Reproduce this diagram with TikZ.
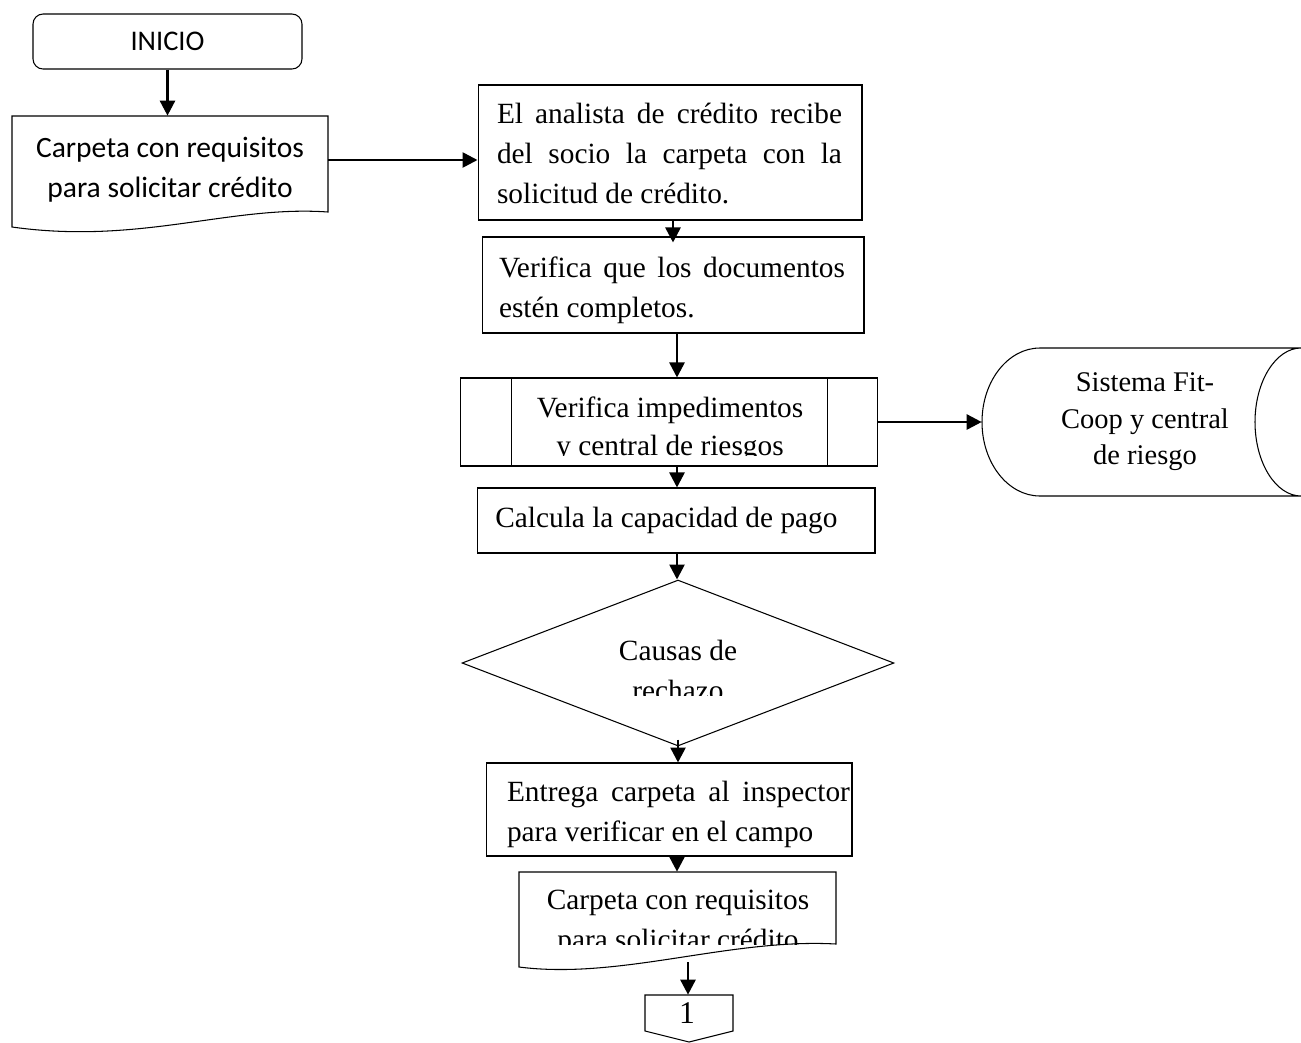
\documentclass[tikz,border=0pt]{standalone}
\usepackage{fontspec}
\setmainfont{Liberation Serif}
\newfontfamily\calfont{Carlito}
\usetikzlibrary{arrows.meta,shapes.geometric}
\begin{document}
\begin{tikzpicture}[x=0.02cm,y=-0.02cm,
  outline/.style={draw=black, line width=0.6pt},
  stepbox/.style={outline, rectangle, inner sep=0pt},
  hidden/.style={rectangle, inner sep=0pt},
  flow/.style={line width=1.5pt, -{Triangle[length=0.3cm,width=0.3cm]}},
  ttext/.style={inner sep=0pt, font=\fontsize{16.7}{22.76}\selectfont},
  ctext/.style={inner sep=0pt, font=\calfont\fontsize{16.8}{22.76}\selectfont},
]
\useasboundingbox (0,0) rectangle (1301,1042);
\coordinate (spine) at (677,0);

% start terminal
\node[stepbox, rounded corners=0.2cm, minimum width=5.38cm, minimum height=1.1cm,
      font=\calfont\fontsize{16.2}{18}\selectfont] (inicio) at (167.5,41.5) {INICIO};

% folder with requirements (document)
\draw[outline] (12,116) -- (328,116) -- (328,212)
  .. controls (230,205) and (140,245) .. (12,227) -- cycle;
\node[hidden, minimum width=6.32cm, minimum height=1.76cm] (doc1) at (170,160) {};
\node[ctext, align=center] (doc1t) at (170,170) {Carpeta con requisitos\\para solicitar crédito};

% analyst receives folder
\node[stepbox, minimum width=7.68cm, minimum height=2.7cm] (b1) at (670,152.5) {};
\node[ttext, text width=6.9cm, align=justify] (b1t) at (669.5,153.4)
  {El analista de crédito recibe\linebreak del socio la carpeta con la\linebreak solicitud de crédito.};

% check documents
\node[stepbox, minimum width=7.64cm, minimum height=1.92cm] (b2) at (673,285) {};
\node[ttext, text width=6.92cm, align=justify] (b2t) at (672,290.4)
  {Verifica que los documentos\linebreak estén completos.};

% predefined process
\node[stepbox, minimum width=8.36cm, minimum height=1.76cm] (pp) at (669,422) {};
\draw[outline] ([xshift=1.04cm]pp.north west) -- ([xshift=1.04cm]pp.south west);
\draw[outline] ([xshift=-1.02cm]pp.north east) -- ([xshift=-1.02cm]pp.south east);
\begin{scope}
  \clip (460,378) rectangle (878,455);
  \node[ttext, align=center, font=\fontsize{16.7}{21.6}\selectfont] (ppt) at (670,429)
    {Verifica impedimentos\\y central de riesgos};
\end{scope}

% stored data
\node[hidden, minimum width=6.38cm, minimum height=2.96cm] (db) at (1141.5,422) {};
\draw[outline] (1040,348) -- (1301,348)
  .. controls (1276,348) and (1255,381) .. (1255,422)
  .. controls (1255,463) and (1276,496) .. (1301,496)
  -- (1040,496)
  .. controls (1008,496) and (982,463) .. (982,422)
  .. controls (982,381) and (1008,348) .. (1040,348) -- cycle;
\node[ttext, align=center, font=\fontsize{16.2}{20.8}\selectfont] (dbt) at (1145,422)
  {Sistema Fit-\\Coop y central\\de riesgo};

% payment capacity
\node[stepbox, minimum width=7.96cm, minimum height=1.3cm] (calc) at (676,520.5) {};
\node[ttext, anchor=west] (calct) at (495,520) {Calcula la capacidad de pago};

% decision
\node[outline, diamond, inner sep=0pt, minimum width=8.64cm, minimum height=3.32cm] (dia) at (678,663) {};
\begin{scope}
  \clip (462,580) rectangle (894,695);
  \node[ttext, align=center] (diat) at (678,670) {Causas de\\rechazo};
\end{scope}

% hand over to inspector
\node[stepbox, minimum width=7.32cm, minimum height=1.86cm] (entrega) at (669,809.5) {};
\node[ttext, text width=6.86cm, align=justify] (entregat) at (678.5,814.5)
  {Entrega carpeta al inspector\linebreak para verificar en el campo};

% folder with requirements (document)
\draw[outline] (519,872) -- (836,872) -- (836,944)
  .. controls (730,938) and (620,980) .. (519,967) -- cycle;
\node[hidden, minimum width=6.34cm, minimum height=1.76cm] (doc2) at (677,916) {};
\begin{scope}
  \clip (519,872) rectangle (836,944);
  \node[ttext, align=center] (doc2t) at (678,923) {Carpeta con requisitos\\para solicitar crédito};
\end{scope}
\coordinate (doc2out) at (688,962);

% off-page connector
\node[hidden, minimum width=1.76cm, minimum height=0.94cm] (conn) at (689,1018.5) {};
\draw[outline] (645,995) -- (733,995) -- (733,1031) -- (689,1042) -- (645,1031) -- cycle;
\node[inner sep=0pt, font=\fontsize{18}{20}\selectfont] (connt) at (687,1013) {1};

% connectors
\draw[flow] (inicio.south) -- (inicio.south |- doc1.north);
\draw[flow] (doc1.east) -- (doc1.east -| b1.west);
\draw[flow] (b2.north |- b1.south) -- ([yshift=-0.12cm]b2.north);
\draw[flow] (spine |- b2.south) -- (spine |- pp.north);
\draw[flow] (pp.east) -- (db.west);
\draw[flow] (spine |- pp.south) -- (spine |- calc.north);
\draw[flow] (spine |- calc.south) -- (spine |- dia.north);
\draw[flow] ([yshift=0.14cm]dia.south) -- (dia.south |- entrega.north);
\draw[flow] (spine |- entrega.south) -- (spine |- doc2.north);
\draw[flow] (doc2out) -- (doc2out |- conn.north);
\end{tikzpicture}
\end{document}
